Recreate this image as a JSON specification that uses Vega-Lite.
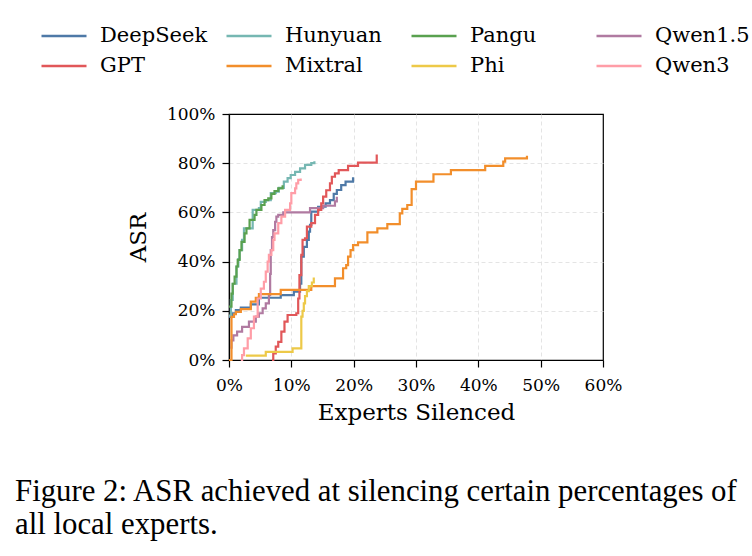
{
  "$schema": "https://vega.github.io/schema/vega-lite/v6.json",
  "width": 374,
  "height": 246,
  "autosize": {"type": "none"},
  "padding": {"left": 229, "top": 114, "right": 149, "bottom": 196},
  "background": "white",
  "config": {
    "font": "DejaVu Serif",
    "view": {"stroke": "black", "strokeWidth": 1.2},
    "axis": {
      "labelFont": "DejaVu Serif",
      "titleFont": "DejaVu Serif",
      "labelFontSize": 17,
      "titleFontSize": 23,
      "titleFontWeight": "normal",
      "labelColor": "black",
      "titleColor": "black",
      "domainColor": "black",
      "domainWidth": 1.2,
      "tickColor": "black",
      "tickWidth": 1.2,
      "tickSize": 7,
      "labelPadding": 7,
      "labelFlush": false,
      "labelOverlap": false,
      "gridColor": "#dddddd",
      "gridDash": [4, 3],
      "gridWidth": 0.8
    },
    "legend": {
      "labelFont": "DejaVu Serif",
      "labelFontSize": 21,
      "labelColor": "black",
      "symbolStrokeWidth": 2.5,
      "symbolType": "stroke",
      "symbolSize": 2025,
      "labelOffset": 12,
      "columnPadding": 17,
      "rowPadding": 0,
      "clipHeight": 30
    }
  },
  "title": {
    "text": ["Figure 2: ASR achieved at silencing certain percentages of", "all local experts."],
    "orient": "bottom",
    "anchor": "start",
    "frame": "group",
    "dx": -214,
    "offset": 53,
    "font": "Liberation Serif",
    "fontSize": 30.8,
    "fontWeight": "normal",
    "lineHeight": 33,
    "color": "black"
  },
  "data": {
    "values": [
      {"m": "DeepSeek", "x": 0, "y": 17.5}, {"m": "DeepSeek", "x": 0.5, "y": 19}, {"m": "DeepSeek", "x": 1.1, "y": 20.3}, {"m": "DeepSeek", "x": 1.9, "y": 21.3}, {"m": "DeepSeek", "x": 3.5, "y": 22.6}, {"m": "DeepSeek", "x": 4.8, "y": 25.3}, {"m": "DeepSeek", "x": 8.3, "y": 26.4}, {"m": "DeepSeek", "x": 10.4, "y": 27.8}, {"m": "DeepSeek", "x": 11.4, "y": 31}, {"m": "DeepSeek", "x": 11.6, "y": 42}, {"m": "DeepSeek", "x": 12.0, "y": 46}, {"m": "DeepSeek", "x": 12.5, "y": 48.8}, {"m": "DeepSeek", "x": 12.8, "y": 52.2}, {"m": "DeepSeek", "x": 13.0, "y": 54.9}, {"m": "DeepSeek", "x": 13.2, "y": 60.3}, {"m": "DeepSeek", "x": 14.3, "y": 62.3}, {"m": "DeepSeek", "x": 15.5, "y": 63.7}, {"m": "DeepSeek", "x": 16.2, "y": 65}, {"m": "DeepSeek", "x": 16.8, "y": 67.5}, {"m": "DeepSeek", "x": 17.3, "y": 69.1}, {"m": "DeepSeek", "x": 18.0, "y": 71.1}, {"m": "DeepSeek", "x": 18.7, "y": 72.5}, {"m": "DeepSeek", "x": 19.9, "y": 74.3},

      {"m": "Hunyuan", "x": 0, "y": 18}, {"m": "Hunyuan", "x": 0.3, "y": 24.4}, {"m": "Hunyuan", "x": 0.6, "y": 31}, {"m": "Hunyuan", "x": 1.2, "y": 38}, {"m": "Hunyuan", "x": 1.5, "y": 41}, {"m": "Hunyuan", "x": 1.7, "y": 44.7}, {"m": "Hunyuan", "x": 2.1, "y": 48.8}, {"m": "Hunyuan", "x": 2.4, "y": 53.5}, {"m": "Hunyuan", "x": 3.8, "y": 61}, {"m": "Hunyuan", "x": 4.8, "y": 61.7}, {"m": "Hunyuan", "x": 5.1, "y": 64.3}, {"m": "Hunyuan", "x": 5.9, "y": 65}, {"m": "Hunyuan", "x": 6.7, "y": 67.8}, {"m": "Hunyuan", "x": 7.5, "y": 68.4}, {"m": "Hunyuan", "x": 8.0, "y": 70}, {"m": "Hunyuan", "x": 8.8, "y": 72.5}, {"m": "Hunyuan", "x": 9.4, "y": 73.9}, {"m": "Hunyuan", "x": 9.9, "y": 75.2}, {"m": "Hunyuan", "x": 10.6, "y": 76.5}, {"m": "Hunyuan", "x": 11.4, "y": 77.9}, {"m": "Hunyuan", "x": 12.2, "y": 79.3}, {"m": "Hunyuan", "x": 13.2, "y": 80}, {"m": "Hunyuan", "x": 13.7, "y": 80.8},

      {"m": "Pangu", "x": 0, "y": 21.7}, {"m": "Pangu", "x": 0.4, "y": 27}, {"m": "Pangu", "x": 0.6, "y": 31}, {"m": "Pangu", "x": 0.9, "y": 33.9}, {"m": "Pangu", "x": 1.2, "y": 38}, {"m": "Pangu", "x": 1.4, "y": 40.7}, {"m": "Pangu", "x": 1.7, "y": 44.7}, {"m": "Pangu", "x": 2.0, "y": 48}, {"m": "Pangu", "x": 2.5, "y": 51.5}, {"m": "Pangu", "x": 2.8, "y": 53.5}, {"m": "Pangu", "x": 3.3, "y": 57}, {"m": "Pangu", "x": 4.1, "y": 59}, {"m": "Pangu", "x": 4.4, "y": 61}, {"m": "Pangu", "x": 5.2, "y": 63}, {"m": "Pangu", "x": 5.7, "y": 65}, {"m": "Pangu", "x": 6.3, "y": 65.7}, {"m": "Pangu", "x": 6.8, "y": 67.5}, {"m": "Pangu", "x": 7.3, "y": 68.7}, {"m": "Pangu", "x": 7.9, "y": 69.8}, {"m": "Pangu", "x": 8.6, "y": 71},

      {"m": "Qwen1.5", "x": 0.2, "y": 5}, {"m": "Qwen1.5", "x": 0.4, "y": 8}, {"m": "Qwen1.5", "x": 0.7, "y": 10}, {"m": "Qwen1.5", "x": 1.3, "y": 11.5}, {"m": "Qwen1.5", "x": 2.1, "y": 13.5}, {"m": "Qwen1.5", "x": 3.2, "y": 15.6}, {"m": "Qwen1.5", "x": 4.3, "y": 17.6}, {"m": "Qwen1.5", "x": 4.8, "y": 19}, {"m": "Qwen1.5", "x": 5.4, "y": 21}, {"m": "Qwen1.5", "x": 5.9, "y": 23}, {"m": "Qwen1.5", "x": 6.4, "y": 26.4}, {"m": "Qwen1.5", "x": 6.6, "y": 35}, {"m": "Qwen1.5", "x": 6.7, "y": 44.7}, {"m": "Qwen1.5", "x": 6.9, "y": 50}, {"m": "Qwen1.5", "x": 7.1, "y": 52.8}, {"m": "Qwen1.5", "x": 7.4, "y": 56.2}, {"m": "Qwen1.5", "x": 7.6, "y": 58.3}, {"m": "Qwen1.5", "x": 7.9, "y": 59}, {"m": "Qwen1.5", "x": 8.7, "y": 60}, {"m": "Qwen1.5", "x": 13.0, "y": 61.7}, {"m": "Qwen1.5", "x": 15.1, "y": 62.7}, {"m": "Qwen1.5", "x": 17.0, "y": 64.5}, {"m": "Qwen1.5", "x": 17.3, "y": 66.4},

      {"m": "GPT", "x": 6.9, "y": 0}, {"m": "GPT", "x": 7.1, "y": 2.7}, {"m": "GPT", "x": 7.5, "y": 5.4}, {"m": "GPT", "x": 7.9, "y": 7.4}, {"m": "GPT", "x": 8.4, "y": 11.5}, {"m": "GPT", "x": 8.9, "y": 15.6}, {"m": "GPT", "x": 9.4, "y": 18.3}, {"m": "GPT", "x": 10.8, "y": 19}, {"m": "GPT", "x": 11.1, "y": 25}, {"m": "GPT", "x": 11.3, "y": 34.5}, {"m": "GPT", "x": 11.6, "y": 42.7}, {"m": "GPT", "x": 11.8, "y": 48.8}, {"m": "GPT", "x": 12.2, "y": 49.5}, {"m": "GPT", "x": 12.5, "y": 54.2}, {"m": "GPT", "x": 13.2, "y": 55.6}, {"m": "GPT", "x": 13.8, "y": 59}, {"m": "GPT", "x": 14.3, "y": 61}, {"m": "GPT", "x": 14.8, "y": 63.7}, {"m": "GPT", "x": 15.1, "y": 66.4}, {"m": "GPT", "x": 15.6, "y": 69}, {"m": "GPT", "x": 16.2, "y": 71.8}, {"m": "GPT", "x": 16.5, "y": 74.5}, {"m": "GPT", "x": 17.0, "y": 75.9}, {"m": "GPT", "x": 17.6, "y": 77.2}, {"m": "GPT", "x": 19.1, "y": 78.9}, {"m": "GPT", "x": 20.7, "y": 80.2}, {"m": "GPT", "x": 23.7, "y": 83.5},

      {"m": "Mixtral", "x": 0, "y": 0}, {"m": "Mixtral", "x": 0.4, "y": 17.5}, {"m": "Mixtral", "x": 0.8, "y": 18.6}, {"m": "Mixtral", "x": 1.1, "y": 19.6}, {"m": "Mixtral", "x": 1.9, "y": 20.7}, {"m": "Mixtral", "x": 3.5, "y": 23.7}, {"m": "Mixtral", "x": 4.3, "y": 25.3}, {"m": "Mixtral", "x": 4.8, "y": 26.8}, {"m": "Mixtral", "x": 8.3, "y": 28.5}, {"m": "Mixtral", "x": 13.2, "y": 30}, {"m": "Mixtral", "x": 17.0, "y": 33.2}, {"m": "Mixtral", "x": 18.3, "y": 37.3}, {"m": "Mixtral", "x": 18.8, "y": 38.6}, {"m": "Mixtral", "x": 19.1, "y": 42}, {"m": "Mixtral", "x": 19.5, "y": 44.7}, {"m": "Mixtral", "x": 19.9, "y": 46.7}, {"m": "Mixtral", "x": 20.7, "y": 47.8}, {"m": "Mixtral", "x": 22.2, "y": 51.9}, {"m": "Mixtral", "x": 23.8, "y": 53.5}, {"m": "Mixtral", "x": 25.4, "y": 55.2}, {"m": "Mixtral", "x": 27.4, "y": 59.6}, {"m": "Mixtral", "x": 27.8, "y": 61.4}, {"m": "Mixtral", "x": 28.6, "y": 63}, {"m": "Mixtral", "x": 29.3, "y": 69.5}, {"m": "Mixtral", "x": 30.0, "y": 72.5}, {"m": "Mixtral", "x": 32.8, "y": 75.5}, {"m": "Mixtral", "x": 35.6, "y": 77.2}, {"m": "Mixtral", "x": 41.1, "y": 78.9}, {"m": "Mixtral", "x": 44.0, "y": 80.6}, {"m": "Mixtral", "x": 44.3, "y": 82}, {"m": "Mixtral", "x": 47.8, "y": 83},

      {"m": "Phi", "x": 2.7, "y": 1.8}, {"m": "Phi", "x": 5.9, "y": 3.3}, {"m": "Phi", "x": 10.2, "y": 4.7}, {"m": "Phi", "x": 11.6, "y": 17.6}, {"m": "Phi", "x": 11.8, "y": 20}, {"m": "Phi", "x": 12.0, "y": 23}, {"m": "Phi", "x": 12.2, "y": 26}, {"m": "Phi", "x": 12.5, "y": 28}, {"m": "Phi", "x": 12.8, "y": 30}, {"m": "Phi", "x": 13.3, "y": 31.5}, {"m": "Phi", "x": 13.6, "y": 33.5},

      {"m": "Qwen3", "x": 1.9, "y": 0}, {"m": "Qwen3", "x": 2.1, "y": 2}, {"m": "Qwen3", "x": 2.4, "y": 4.7}, {"m": "Qwen3", "x": 3.0, "y": 8.8}, {"m": "Qwen3", "x": 3.5, "y": 12.9}, {"m": "Qwen3", "x": 4.0, "y": 17.6}, {"m": "Qwen3", "x": 4.6, "y": 25}, {"m": "Qwen3", "x": 5.1, "y": 29}, {"m": "Qwen3", "x": 5.6, "y": 31.8}, {"m": "Qwen3", "x": 5.9, "y": 35.9}, {"m": "Qwen3", "x": 6.2, "y": 40}, {"m": "Qwen3", "x": 6.4, "y": 42.7}, {"m": "Qwen3", "x": 6.8, "y": 44.7}, {"m": "Qwen3", "x": 7.1, "y": 48.8}, {"m": "Qwen3", "x": 7.3, "y": 51.5}, {"m": "Qwen3", "x": 7.9, "y": 55.6}, {"m": "Qwen3", "x": 8.4, "y": 58.3}, {"m": "Qwen3", "x": 9.0, "y": 61}, {"m": "Qwen3", "x": 9.8, "y": 63.7}, {"m": "Qwen3", "x": 10.0, "y": 67.8}, {"m": "Qwen3", "x": 10.6, "y": 69.8}, {"m": "Qwen3", "x": 10.8, "y": 71.8}, {"m": "Qwen3", "x": 11.1, "y": 73.2}, {"m": "Qwen3", "x": 11.5, "y": 73.8}
    ]
  },
  "mark": {"type": "line", "interpolate": "step-after", "strokeWidth": 2.2},
  "encoding": {
    "x": {
      "field": "x",
      "type": "quantitative",
      "scale": {"domain": [0, 60], "nice": false},
      "axis": {
        "values": [0, 10, 20, 30, 40, 50, 60],
        "labelExpr": "datum.value + '%'",
        "labelPadding": 10,
        "title": "Experts Silenced",
        "titlePadding": 8,
        "gridOpacity": {"condition": {"test": "datum.value == 60", "value": 0}, "value": 1}
      }
    },
    "y": {
      "field": "y",
      "type": "quantitative",
      "scale": {"domain": [0, 100], "nice": false},
      "axis": {
        "values": [0, 20, 40, 60, 80, 100],
        "labelExpr": "datum.value + '%'",
        "title": "ASR",
        "titlePadding": 16,
        "gridOpacity": {"condition": {"test": "datum.value == 100", "value": 0}, "value": 1}
      }
    },
    "color": {
      "field": "m",
      "type": "nominal",
      "scale": {
        "domain": ["DeepSeek", "Hunyuan", "Pangu", "Qwen1.5", "GPT", "Mixtral", "Phi", "Qwen3"],
        "range": ["#4e79a7", "#76b7b2", "#59a14f", "#b07aa1", "#e15759", "#f28e2b", "#edc948", "#ff9da7"]
      },
      "legend": {
        "title": null,
        "orient": "none",
        "legendX": -189,
        "legendY": -93,
        "columns": 4,
        "direction": "horizontal",
        "gridAlign": "all"
      }
    }
  }
}
